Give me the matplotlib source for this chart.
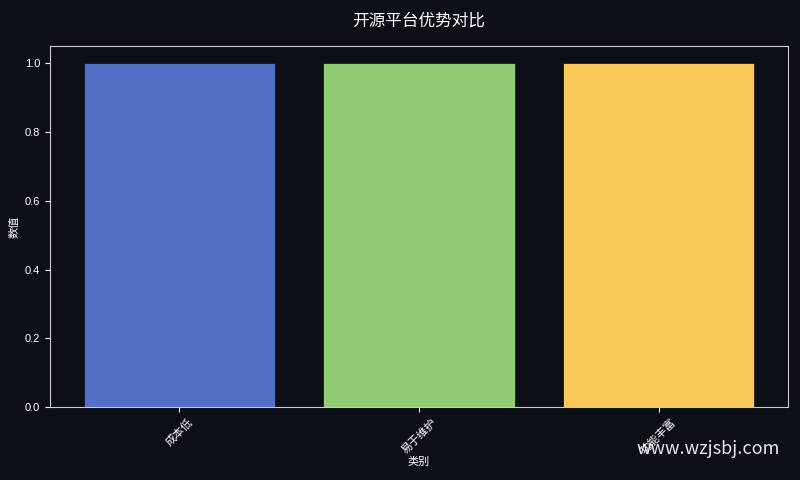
import matplotlib
matplotlib.use("Agg")
import matplotlib.pyplot as plt

plt.rcParams['font.family'] = ['Liberation Sans', 'Noto Sans CJK SC', 'DejaVu Sans']

# 数据
categories = ["成本低", "易于维护", "功能丰富"]
values = [1, 1, 1]
colors = ["#5470c6", "#91cc75", "#fac858"]

bg = "#0c0f16"
fig, ax = plt.subplots(figsize=(8, 4.8), dpi=100)
fig.patch.set_facecolor(bg)
ax.set_facecolor(bg)

ax.bar(categories, values, color=colors, width=0.8, edgecolor=bg, linewidth=0.5)

ax.set_title("开源平台优势对比", color="white", fontsize=12, pad=15)
ax.set_xlabel("类别", color="white", fontsize=8, labelpad=1)
ax.set_ylabel("数值", color="white", fontsize=8)
ax.tick_params(colors="white", labelsize=8)
plt.setp(ax.get_xticklabels(), rotation=45)
for s in ax.spines.values():
    s.set_color("#cccccc")

fig.subplots_adjust(left=0.0625, right=0.985, top=0.904, bottom=0.152)
fig.text(0.975, 0.065, "www.wzjsbj.com", color="white", fontsize=13,
         ha="right", va="center", family=["Noto Sans CJK SC"], alpha=0.9)

plt.savefig("out.png", facecolor=bg)
